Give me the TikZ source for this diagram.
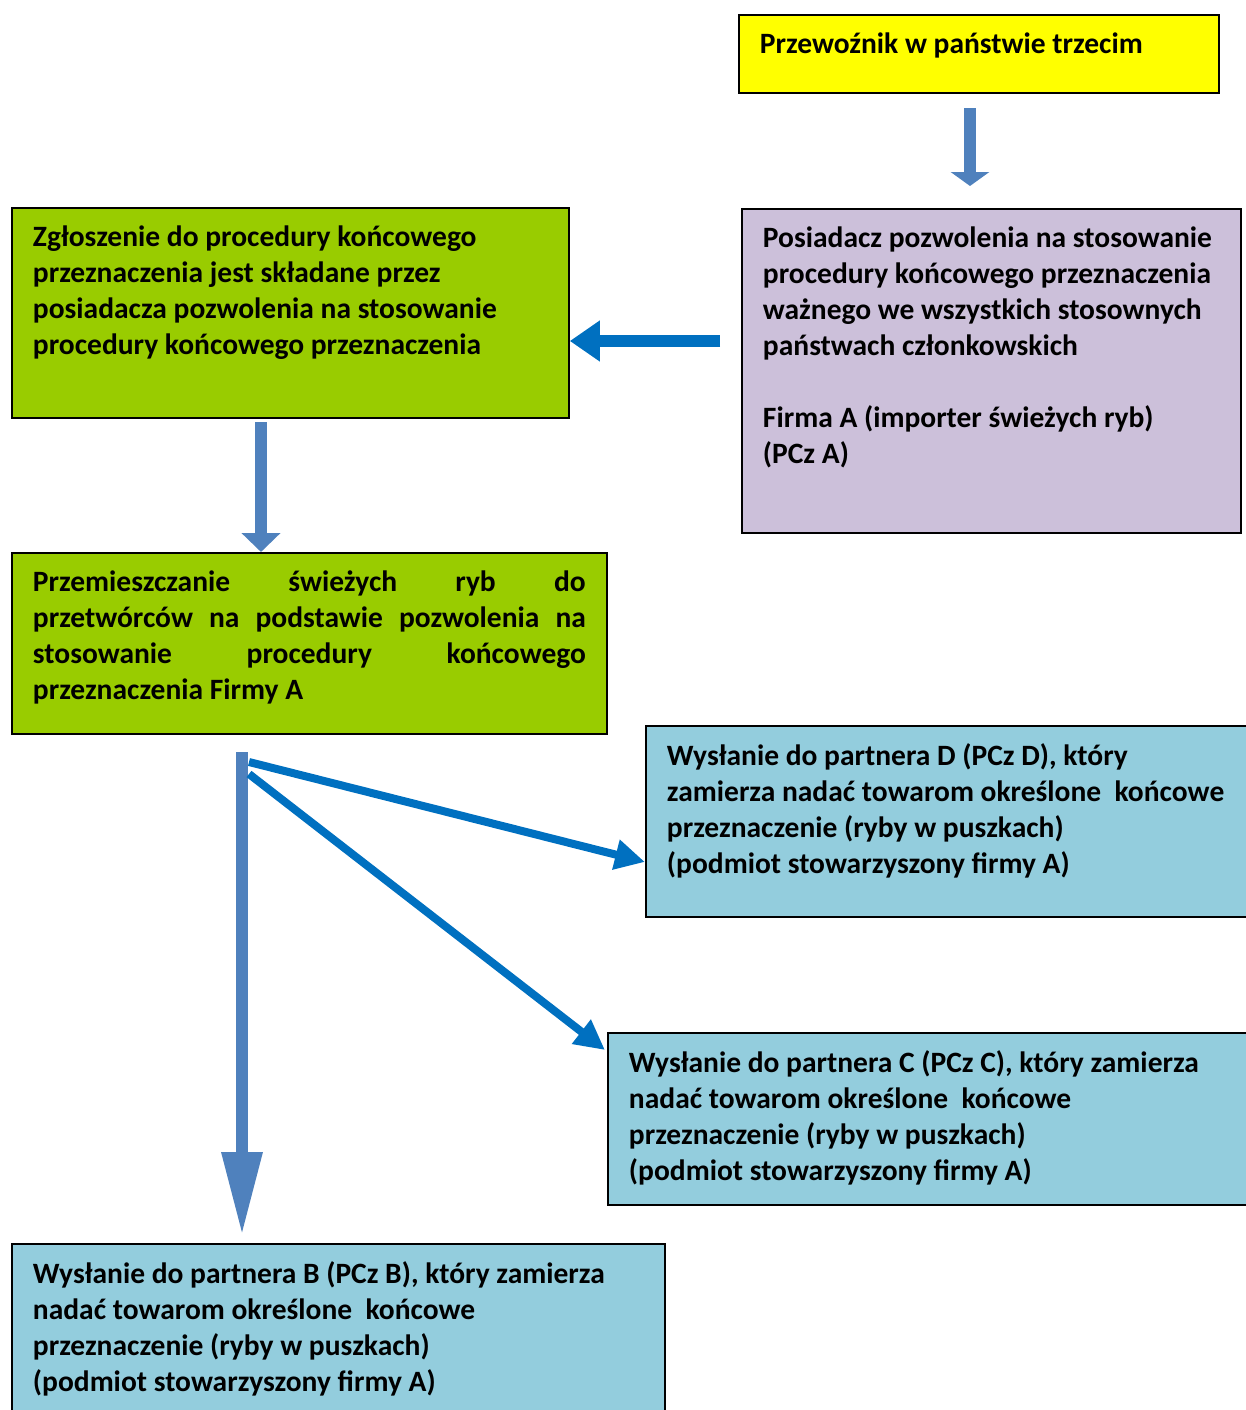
\documentclass[tikz,border=0pt]{standalone}
\usepackage{fontspec}
\setmainfont{Carlito}
\usepackage{tikz}
\usetikzlibrary{positioning,calc,arrows.meta}

\definecolor{zolty}{HTML}{FFFF00}
\definecolor{fiolet}{HTML}{CCC0DA}
\definecolor{zielony}{HTML}{99CC00}
\definecolor{niebieski}{HTML}{93CDDD}
\definecolor{strzalka}{HTML}{4F81BD}
\definecolor{strzalkab}{HTML}{0070C0}

% text block of a box: width, height, text
\newcommand{\blok}[3]{\begin{minipage}[t][#2][t]{#1}#3\end{minipage}}
\newcommand{\rowna}[1]{\makebox[\linewidth][s]{#1}}

\begin{document}
\begin{tikzpicture}[x=0.02cm,y=-0.02cm,
    ramka/.style={draw=black,line width=1.1pt,anchor=north west,
        inner xsep=0.42cm,inner ysep=0.35cm,align=left,
        font=\fontsize{16.8}{20.5}\selectfont\bfseries},
    gruba/.style={draw=strzalka,line width=0.25cm,
        -{Triangle[width=0.76cm,length=#1]}},
    gruba/.default=0.3cm,
    cienka/.style={draw=strzalkab,line width=0.16cm,
        -{Triangle[width=0.58cm,length=0.6cm]}}]

\useasboundingbox (0,0) rectangle (1245,1410);

\node[ramka,fill=zolty] (yel) at (738,14)
    {\blok{8.76cm}{0.86cm}{Przewoźnik w państwie trzecim}};
\node[ramka,fill=fiolet] (pos) at (741,208)
    {\blok{9.14cm}{5.78cm}{Posiadacz pozwolenia na stosowanie\\
    procedury końcowego przeznaczenia\\
    ważnego we wszystkich stosownych\\
    państwach członkowskich\\[20.5pt]
    Firma A (importer świeżych ryb)\\
    (PCz A)}};
\node[ramka,fill=zielony] (zg) at (11,207)
    {\blok{10.3cm}{3.5cm}{Zgłoszenie do procedury końcowego\\
    przeznaczenia jest składane przez\\
    posiadacza pozwolenia na stosowanie\\
    procedury końcowego przeznaczenia}};
\node[ramka,fill=zielony] (prz) at (11,552)
    {\blok{11.06cm}{2.92cm}{\rowna{Przemieszczanie świeżych ryb do}\\
    \rowna{przetwórców na podstawie pozwolenia na}\\
    \rowna{stosowanie procedury końcowego}\\
    przeznaczenia Firmy A}};
\node[ramka,fill=niebieski] (wd) at (645,725)
    {\blok{11.4cm}{3.12cm}{Wysłanie do partnera D (PCz D), który\\
    zamierza nadać towarom określone~ końcowe\\
    przeznaczenie (ryby w puszkach)\\
    (podmiot stowarzyszony firmy A)}};
\node[ramka,fill=niebieski] (wc) at (607,1032)
    {\blok{12.2cm}{2.74cm}{Wysłanie do partnera C (PCz C), który zamierza\\
    nadać towarom określone~ końcowe\\
    przeznaczenie (ryby w puszkach)\\
    (podmiot stowarzyszony firmy A)}};
\node[ramka,fill=niebieski] (wb) at (11,1243)
    {\blok{12.22cm}{3.3cm}{Wysłanie do partnera B (PCz B), który zamierza\\
    nadać towarom określone~ końcowe\\
    przeznaczenie (ryby w puszkach)\\
    (podmiot stowarzyszony firmy A)}};

% poczatki strzalek
\coordinate (s1) at (970,108);
\coordinate (s2) at (720,341);
\coordinate (s3) at (261,422);
\coordinate (s4) at (242,752);
\coordinate (s5) at (249,762);
\coordinate (s6) at (249,774);

\draw[gruba=0.28cm,shorten >=0.44cm] (s1) -- (s1 |- pos.north);
\draw[draw=strzalkab,line width=0.25cm,
    -{Triangle[width=0.78cm,length=0.6cm]}] (s2) -- (s2 -| zg.east);
\draw[gruba=0.38cm] (s3) -- (s3 |- prz.north);
\draw[gruba=1.68cm,shorten >=0.14cm] (s4) -- (s4 |- wb.north);
\draw[cienka] (s5) -- ($(wd.north west)+(0,137)$);
\draw[cienka] (s6) -- ($(wc.north west)+(-2,18)$);

\end{tikzpicture}
\end{document}
